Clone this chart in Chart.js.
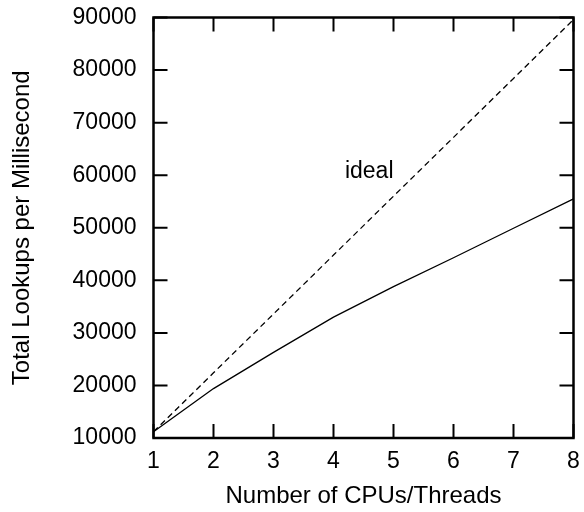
<!DOCTYPE html>
<html lang="en">
<head>
    <meta charset="UTF-8">
    <title>Total Lookups per Millisecond</title>
    <script src="https://cdn.jsdelivr.net/npm/chart.js"></script>
    <style>
        * { margin: 0; padding: 0; box-sizing: border-box; }
        body { background: #fff; }
        .chart-box { width: 584px; height: 512px; position: relative; }
    </style>
</head>
<body>
    <div class="chart-box">
        <canvas id="lookupChart"></canvas>
    </div>

    <script>
        // data
        const cpus = [1, 2, 3, 4, 5, 6, 7, 8];
        const measured = [11200, 19400, 26300, 33000, 38800, 44300, 49900, 55500];
        const ideal = [11200, 22400, 33600, 44800, 56000, 67200, 78400, 89600];
        const yTicks = [10000, 20000, 30000, 40000, 50000, 60000, 70000, 80000, 90000];
        const idealLabel = { text: 'ideal', x: 4.19, y: 59400 };

        const FONT = "'Liberation Sans', Arial, sans-serif";

        // gnuplot style frame: inward ticks on all four sides
        const framePlugin = {
            id: 'frame',
            afterDatasetsDraw(chart) {
                const ctx = chart.ctx;
                const a = chart.chartArea;
                const xs = chart.scales.x, ys = chart.scales.y;
                const len = 14;
                ctx.save();
                ctx.strokeStyle = '#000';
                ctx.lineWidth = 2;
                ctx.beginPath();
                cpus.forEach(v => {
                    const px = xs.getPixelForValue(v);
                    ctx.moveTo(px, a.bottom); ctx.lineTo(px, a.bottom - len);
                    ctx.moveTo(px, a.top); ctx.lineTo(px, a.top + len);
                });
                yTicks.forEach(v => {
                    const py = ys.getPixelForValue(v);
                    ctx.moveTo(a.left, py); ctx.lineTo(a.left + len, py);
                    ctx.moveTo(a.right, py); ctx.lineTo(a.right - len, py);
                });
                ctx.stroke();
                ctx.lineWidth = 2.5;
                ctx.strokeRect(a.left, a.top, a.right - a.left, a.bottom - a.top);

                // label for the ideal line
                ctx.fillStyle = '#000';
                ctx.font = '23px ' + FONT;
                ctx.textAlign = 'left';
                ctx.textBaseline = 'alphabetic';
                ctx.fillText(idealLabel.text, xs.getPixelForValue(idealLabel.x), ys.getPixelForValue(idealLabel.y));
                ctx.restore();
            }
        };

        new Chart(document.getElementById('lookupChart'), {
            type: 'line',
            data: {
                datasets: [{
                    label: 'measured',
                    data: cpus.map((c, i) => ({ x: c, y: measured[i] })),
                    borderColor: '#000',
                    borderWidth: 1.3,
                    pointRadius: 0,
                    tension: 0
                }, {
                    label: 'ideal',
                    data: cpus.map((c, i) => ({ x: c, y: ideal[i] })),
                    borderColor: '#000',
                    borderWidth: 1.3,
                    borderDash: [6, 4],
                    pointRadius: 0,
                    tension: 0
                }]
            },
            options: {
                responsive: true,
                maintainAspectRatio: false,
                animation: false,
                layout: { padding: { left: 0, right: 10.5, top: 17.5, bottom: 0 } },
                plugins: {
                    legend: { display: false },
                    tooltip: { enabled: false }
                },
                scales: {
                    x: {
                        type: 'linear',
                        min: 1,
                        max: 8,
                        afterFit(scale) {
                            scale.height = 74;
                            scale.paddingLeft = 0;
                            scale.paddingRight = 0;
                        },
                        afterBuildTicks(scale) { scale.ticks = cpus.map(v => ({ value: v })); },
                        grid: { display: false, drawTicks: false },
                        border: { display: false },
                        ticks: {
                            color: '#000',
                            font: { family: FONT, size: 23 },
                            padding: 10,
                            maxRotation: 0
                        },
                        title: {
                            display: true,
                            text: 'Number of CPUs/Threads',
                            color: '#000',
                            font: { family: FONT, size: 24 },
                            padding: { top: 0, bottom: 1 }
                        }
                    },
                    y: {
                        min: 10000,
                        max: 90000,
                        afterFit(scale) {
                            scale.width = 153.5;
                            scale.paddingTop = 0;
                            scale.paddingBottom = 0;
                        },
                        afterBuildTicks(scale) { scale.ticks = yTicks.map(v => ({ value: v })); },
                        grid: { display: false, drawTicks: false },
                        border: { display: false },
                        ticks: {
                            color: '#000',
                            font: { family: FONT, size: 23 },
                            padding: 17,
                            callback: v => String(v)
                        },
                        title: {
                            display: true,
                            text: 'Total Lookups per Millisecond',
                            color: '#000',
                            font: { family: FONT, size: 24 },
                            padding: { top: 8, bottom: 0 }
                        }
                    }
                }
            },
            plugins: [framePlugin]
        });
    </script>
</body>
</html>
